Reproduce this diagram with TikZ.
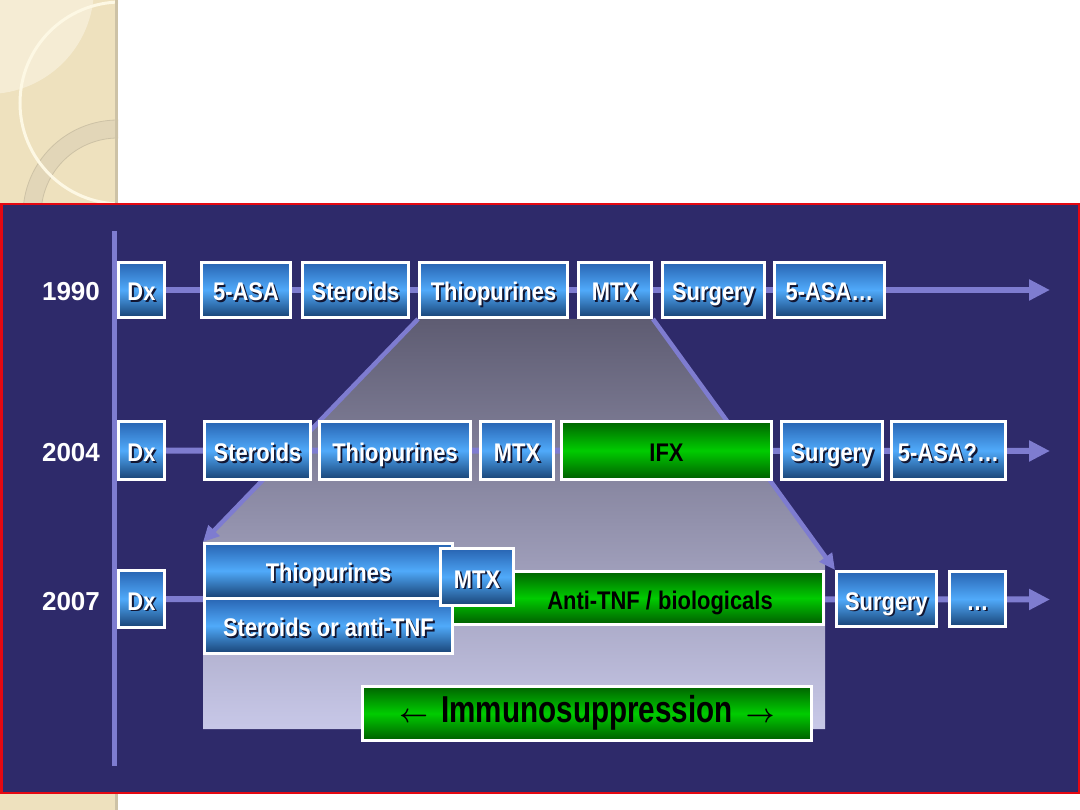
\documentclass[tikz,border=0pt]{standalone}
\usepackage{fontspec}
\setmainfont{Liberation Sans}
\newfontfamily\nrw[FakeStretch=0.86]{Liberation Sans}
\newfontfamily\nrwbig[FakeStretch=0.79]{Liberation Sans}
\usetikzlibrary{arrows.meta}
\pgfdeclarelayer{back}
\pgfdeclarelayer{mid}
\pgfsetlayers{back,mid,main}
\definecolor{navy}{RGB}{46,42,106}
\definecolor{lav}{RGB}{126,124,208}
\definecolor{beige}{RGB}{238,225,190}
\definecolor{beigel}{RGB}{245,236,212}
\definecolor{beiger}{RGB}{226,214,184}
\definecolor{beiged}{RGB}{205,194,166}
\definecolor{cream}{RGB}{253,248,228}
\definecolor{bluet}{RGB}{40,100,178}
\definecolor{bluem}{RGB}{80,170,250}
\definecolor{blueb}{RGB}{24,66,116}
\definecolor{greent}{RGB}{0,100,0}
\definecolor{greenm}{RGB}{0,204,0}
\definecolor{greenb}{RGB}{0,92,0}
\definecolor{shad}{RGB}{18,22,50}
\definecolor{redb}{RGB}{228,8,18}
\definecolor{funt}{RGB}{94,92,114}
\definecolor{funb}{RGB}{200,200,232}
\newcommand\shw[1]{\makebox[0pt][l]{\kern1.8pt\raisebox{-1.8pt}{\textcolor{shad}{#1}}}#1}
\newcommand\barrow[1]{\scalebox{1.0}[1.05]{\boldmath$#1$}}
\tikzset{
  bluebox/.style={draw=white, line width=3pt, inner sep=0pt, text=white,
    font=\nrw\bfseries\fontsize{25.5}{30}\selectfont, text height=22pt, text depth=0pt,
    top color=bluet, bottom color=blueb, middle color=bluem},
  greenbox/.style={draw=white, line width=3pt, inner sep=0pt, text=black,
    font=\nrw\bfseries\fontsize{25.5}{30}\selectfont, text height=22pt, text depth=0pt,
    top color=greent, bottom color=greenb, middle color=greenm},
  yearlbl/.style={text=white, inner sep=0pt, anchor=base, font=\bfseries\fontsize{26}{30}\selectfont},
  timeline/.style={lav, line width=6pt, -{Triangle[length=21pt,width=20pt]}},
  funarrow/.style={lav, line width=4.5pt, -{Triangle[length=16pt,width=15pt]}}
}
\begin{document}
\begin{tikzpicture}[x=1pt,y=-1pt]
\useasboundingbox (0,0) rectangle (1080,810);
\begin{pgfonlayer}{back}
\fill[white] (0,0) rectangle (1080,810);
% beige decoration
\begin{scope}
\clip (0,0) rectangle (118,203);
\fill[beige] (0,0) rectangle (118,203);
\fill[beigel] (-12,-12) circle[radius=106];
\fill[beiger, even odd rule] (118,215) circle[radius=95] (118,215) circle[radius=77];
\draw[beiged, line width=0.8pt] (118,215) circle[radius=95] (118,215) circle[radius=77];
\draw[cream, line width=3pt] (121,103) circle[radius=101];
\end{scope}
\draw[beiged, line width=3pt] (116.5,0) -- (116.5,203);
\fill[beige] (0,793) rectangle (118,810);
\draw[beiged, line width=3pt] (116.5,793) -- (116.5,810);
% panel
\fill[navy] (0,203) rectangle (1080,793);
\draw[redb, line width=2.5pt] (1.25,204.25) rectangle (1078.75,792.75);
% axis
\draw[lav, line width=5pt] (114.5,231) -- (114.5,766);
\end{pgfonlayer}

% years
\node[yearlbl] (y90) at (71,300.5) {1990};
\node[yearlbl] (y04) at (71,461) {2004};
\node[yearlbl] (y07) at (71,610) {2007};

% 1990
\node[bluebox, minimum width=46pt, minimum height=55pt] (d90) at (141.5,290) {\shw{Dx}};
\node[bluebox, minimum width=89pt, minimum height=55pt] (a90) at (246,290) {\shw{5-ASA}};
\node[bluebox, minimum width=106pt, minimum height=55pt] (s90) at (355.5,290) {\shw{Steroids}};
\node[bluebox, minimum width=148pt, minimum height=55pt] (t90) at (493.5,290) {\shw{Thiopurines}};
\node[bluebox, minimum width=73pt, minimum height=55pt] (m90) at (615,290) {\shw{MTX}};
\node[bluebox, minimum width=102pt, minimum height=55pt] (su90) at (713.5,290) {\shw{Surgery}};
\node[bluebox, minimum width=110pt, minimum height=55pt] (e90) at (829.5,290) {\shw{5-ASA…}};

% 2004
\node[bluebox, minimum width=46pt, minimum height=58pt] (d04) at (141.5,450.5) {\shw{Dx}};
\node[bluebox, minimum width=106pt, minimum height=58pt] (s04) at (257.5,450.5) {\shw{Steroids}};
\node[bluebox, minimum width=151pt, minimum height=58pt] (t04) at (395,450.5) {\shw{Thiopurines}};
\node[bluebox, minimum width=73pt, minimum height=58pt] (m04) at (517,450.5) {\shw{MTX}};
\node[greenbox, minimum width=210pt, minimum height=58pt] (ifx) at (666.5,450.5) {IFX};
\node[bluebox, minimum width=101pt, minimum height=58pt] (su04) at (832,450.5) {\shw{Surgery}};
\node[bluebox, minimum width=114.5pt, minimum height=58pt] (e04) at (948.5,450.5) {\shw{5-ASA?…}};

% 2007
\node[bluebox, minimum width=46pt, minimum height=57pt] (d07) at (141.5,599) {\shw{Dx}};
\node[greenbox, minimum width=382pt, minimum height=53pt] (anti07) at (632.5,598) {\hspace*{55pt}Anti-TNF / biologicals};
\node[bluebox, minimum width=248pt, minimum height=54.5pt] (thio07) at (328.5,570.75) {\shw{Thiopurines}};
\node[bluebox, minimum width=248pt, minimum height=55.5pt] (ster07) at (328.5,625.75) {\shw{Steroids or anti-TNF}};
\node[bluebox, minimum width=73pt, minimum height=57pt] (mtx07) at (477,577) {\shw{MTX}};
\node[bluebox, minimum width=100pt, minimum height=55pt] (su07) at (886.5,599) {\shw{Surgery}};
\node[bluebox, minimum width=56pt, minimum height=55pt] (dots07) at (977.5,599) {\shw{…}};

% immunosuppression
\node[greenbox, minimum width=449pt, minimum height=54pt, font=\nrwbig\bfseries\fontsize{37.5}{40}\selectfont, text height=27pt, text depth=10pt] (imm) at (587,713.5) {\barrow{\leftarrow}\hspace{5pt} Immunosuppression \hspace{5pt}\barrow{\rightarrow}};

% line ends
\coordinate (end90) at (1050,290);
\coordinate (end04) at (1050,451);
\coordinate (end07) at (1050,599.5);

\begin{pgfonlayer}{back}
\shade[top color=funt, bottom color=funb] (t90.south west) -- (m90.south east) -- (825,556) -- (825,729) -- (203,729) -- (203,542) -- cycle;
\end{pgfonlayer}
\begin{pgfonlayer}{mid}
\draw[funarrow] (t90.south west) -- (thio07.north west);
\draw[funarrow] (m90.south east) -- (su07.north west);
\draw[timeline] (d90.east) -- (end90);
\draw[timeline] (d04.east) -- (end04);
\draw[timeline] (d07.east) -- (end07);
\end{pgfonlayer}
\end{tikzpicture}
\end{document}
